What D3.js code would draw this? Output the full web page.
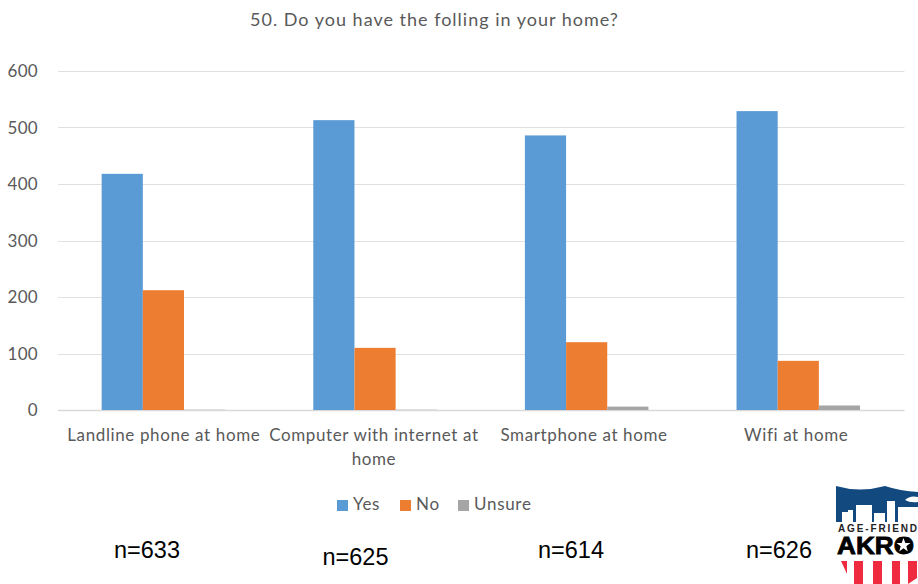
<!DOCTYPE html>
<html><head><meta charset="utf-8">
<script src="https://cdn.jsdelivr.net/npm/d3@7"></script>
<style>
html,body{margin:0;padding:0;background:#fff;overflow:hidden}
svg{display:block}
text{font-family:Lato,"Open Sans",sans-serif;fill:#595959}
</style></head><body><svg id="c" width="918" height="584"></svg>
<script>
const title = "50. Do you have the folling in your home?";
const categories = ["Landline phone at home","Computer with internet at home","Smartphone at home","Wifi at home"];
const categoryLines = [["Landline phone at home"],["Computer with internet at","home"],["Smartphone at home"],["Wifi at home"]];
const seriesNames = ["Yes","No","Unsure"];
const colors = ["#5B9BD5","#ED7D31","#A5A5A5"];
const yes = [418,513,486,529];
const no = [212,110,120,87];
const unsure = [0.5,0.5,6,8];
const seriesValues = [yes,no,unsure];
const yTicks = [0,100,200,300,400,500,600];
const sampleLabels = ["n=633","n=625","n=614","n=626"];

const svg = d3.select("#c");
const y = d3.scaleLinear().domain([0,600]).range([410,71]);
const x0 = d3.scaleBand().domain(categories).range([58,904.5]);
const x1 = d3.scaleBand().domain(seriesNames).range([0,x0.bandwidth()]).paddingOuter(1.07).paddingInner(0);

svg.append("text").attr("x",434.5).attr("y",25.5).attr("text-anchor","middle")
  .style("font-size","18px").style("letter-spacing","1px").text(title);

// gridlines
svg.append("g").selectAll("line").data(yTicks).join("line")
  .attr("x1",58).attr("x2",904.5)
  .attr("y1",d=>d===0?y(d)+0.5:Math.round(y(d))+0.5).attr("y2",d=>d===0?y(d)+0.5:Math.round(y(d))+0.5)
  .attr("stroke",d=>d===0?"#D9D9D9":"#E0E0E0").attr("stroke-width",d=>d===0?1.5:1);

// y axis labels
svg.append("g").selectAll("text").data(yTicks).join("text")
  .attr("x",38).attr("y",d=>y(d)+6).attr("text-anchor","end")
  .style("font-size","17px").style("letter-spacing","0.3px").text(d=>d);

// bars
const groups = svg.append("g").selectAll("g").data(categories).join("g")
  .attr("transform",d=>`translate(${x0(d)-0.4},0)`);
groups.selectAll("rect").data((d,i)=>seriesNames.map((s,j)=>({s,v:seriesValues[j][i],c:colors[j]}))).join("rect")
  .attr("x",d=>x1(d.s)).attr("width",x1.bandwidth())
  .attr("y",d=>y(d.v)).attr("height",d=>y(0)-y(d.v)).attr("fill",d=>d.c);

// category labels
const catShift = [0,-1.5,-3,-2.5];
const cat = svg.append("g").selectAll("text").data(categories).join("text")
  .attr("text-anchor","middle").style("font-size","17px").style("letter-spacing","0.62px");
cat.each(function(d,i){
  const t = d3.select(this);
  categoryLines[i].forEach((l,k)=>t.append("tspan")
    .attr("x",x0(d)+x0.bandwidth()/2+catShift[i]).attr("y",441+k*24).text(l));
});

// legend
const legendX = [337,400,458], legendTextX = [353,416,474];
const legend = svg.append("g").selectAll("g").data(seriesNames).join("g");
legend.append("rect").attr("x",(d,i)=>legendX[i]).attr("y",500).attr("width",11).attr("height",11).attr("fill",(d,i)=>colors[i]);
legend.append("text").attr("x",(d,i)=>legendTextX[i]).attr("y",510).style("font-size","17px").style("letter-spacing","0.7px").text(d=>d);

// sample sizes
const nX = [147,355.5,571,779], nY = [558,565,558,558];
svg.append("g").selectAll("text").data(sampleLabels).join("text")
  .attr("x",(d,i)=>nX[i]).attr("y",(d,i)=>nY[i]).attr("text-anchor","middle")
  .style("font-family","'Liberation Sans',Arial,sans-serif").style("font-size","23.5px").style("fill","#000").text(d=>d);

// logo
const logo = svg.append("g");
logo.append("path").attr("fill","#12497F").attr("d","M836 486 Q860 493 885 486 Q900 491 918 492 V522 H836 Z");
logo.append("path").attr("fill","#fff").attr("d","M842 523 V512 H848 V510 H853 V523 Z M856 523 V505 H872 V523 Z M874 523 V513 H885 V523 Z M887 523 V501 H895 V523 Z M898 523 V507 H918 V523 Z M905 500 Q910 495 918 497 V502 Q910 503 905 500 Z");
logo.append("text").attr("x",838).attr("y",532).attr("textLength",79).attr("lengthAdjust","spacing")
  .style("font-family","'Liberation Sans',Arial,sans-serif").style("font-weight","700").style("font-size","10px").style("fill","#222").text("AGE-FRIEND");
logo.append("text").attr("x",837).attr("y",553.5).attr("textLength",77).attr("lengthAdjust","spacingAndGlyphs")
  .style("font-family","'Liberation Sans',Arial,sans-serif").style("font-weight","700").style("font-size","23.5px").style("stroke","#000").style("stroke-width","0.8px").style("fill","#000").text("AKRO");
logo.append("circle").attr("cx",903.5).attr("cy",545).attr("r",7).attr("fill","#000");
logo.append("path").attr("fill","#fff").attr("d","M903.5 538 L905.3 543 L910.5 543 L906.3 546.2 L907.8 551.5 L903.5 548.3 L899.2 551.5 L900.7 546.2 L896.5 543 L901.7 543 Z");
logo.append("path").attr("fill","#EE2B3F").attr("d","M841 561 H847 V574 Z M854 561 H863 V584 H854 Z M873 561 H882 V584 H873 Z M892 561 H900 V584 H892 Z M908 561 H917 V578 L908 584 Z");
</script></body></html>
